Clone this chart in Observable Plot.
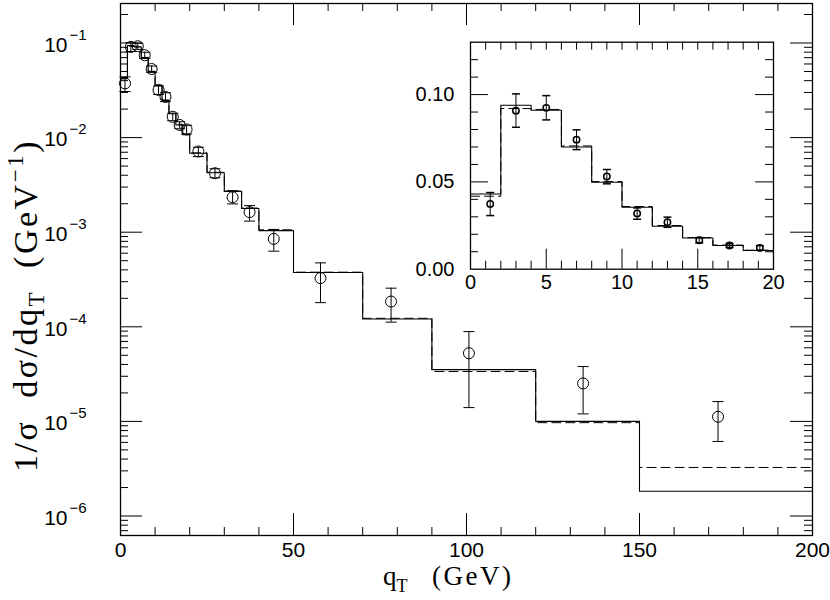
<!DOCTYPE html>
<html><head><meta charset="utf-8">
<script src="https://cdn.jsdelivr.net/npm/d3@7"></script>
<script src="https://cdn.jsdelivr.net/npm/@observablehq/plot@0.6"></script>
<style>
body{margin:0;background:#fff;}
#wrap{position:relative;width:830px;height:600px;overflow:hidden;}
#inset{position:absolute;left:400px;top:30px;}
</style></head><body><div id="wrap"><div id="main"></div><div id="inset"></div></div>
<script>
// ---------- data ----------
const binEdges = [0,2,4,6,8,10,12,14,16,18,20,25,30,35,40,50,70,90,120,150,200];
const solidValues = [0.0431,0.0939,0.0910,0.0700,0.0498,0.0355,0.0246,0.0179,0.0136,0.0107,
  6.84e-3,4.25e-3,2.69e-3,1.78e-3,1.04e-3,3.75e-4,1.21e-4,3.53e-5,1.0e-5,1.83e-6];
const dashedValues = [0.0418,0.0920,0.0915,0.0706,0.0502,0.0359,0.0250,0.0181,0.0138,0.0109,
  6.9e-3,4.3e-3,2.72e-3,1.8e-3,1.06e-3,3.78e-4,1.23e-4,3.37e-5,9.7e-6,3.26e-6];
const pointX  = [1.3,3.0,5.0,7.0,9.0,11.0,13.0,15.1,17.1,19.1,22.5,27.3,32.4,37.3,44.3,57.8,78.2,100.7,133.7,172.7];
const pointY  = [0.0374,0.0908,0.0924,0.0742,0.0531,0.0319,0.0269,0.0166,0.0136,0.0122,
  7.13e-3,4.2e-3,2.34e-3,1.63e-3,8.5e-4,3.27e-4,1.85e-4,5.26e-5,2.52e-5,1.12e-5];
const pointLo = [0.0307,0.0813,0.0855,0.0685,0.0489,0.0286,0.0240,0.0151,0.0124,0.0109,
  6.3e-3,3.76e-3,1.99e-3,1.31e-3,6.3e-4,1.80e-4,1.12e-4,1.40e-5,1.20e-5,6.14e-6];
const pointHi = [0.0439,0.1004,0.0994,0.0798,0.0571,0.0351,0.0298,0.0181,0.0147,0.0135,
  7.9e-3,4.68e-3,2.75e-3,1.91e-3,1.07e-3,4.74e-4,2.56e-4,8.9e-5,3.8e-5,1.62e-5];

const xTickLabels = [0,50,100,150,200];
const xMajorTicks = [50,100,150];
const xMinorTicks = [10,20,30,40,60,70,80,90,110,120,130,140,160,170,180,190];
const yMajorTicks = [1e-6,1e-5,1e-4,1e-3,1e-2,1e-1];
const yTickExponents = ["−6","−5","−4","−3","−2","−1"];
const yMinorMantissas = [2,3,4,5,6,7,8,9];

const insetXTickLabels = [0,5,10,15,20];
const insetXMajorTicks = [5,10,15];
const insetXMinorTicks = [1,2,3,4,6,7,8,9,11,12,13,14,16,17,18,19];
const insetYTickLabels = [0.00,0.05,0.10];
const insetYMajorTicks = [0.05,0.10];
const insetYMinorTicks = [0.01,0.02,0.03,0.04,0.06,0.07,0.08,0.09,0.11,0.12];

// ---------- derived tables ----------
const stepRows = vals => binEdges.map((e,i)=>({x:e, y: vals[Math.min(i, vals.length-1)]}));
const points = pointX.map((x,i)=>({x, y:pointY[i], lo:pointLo[i], hi:pointHi[i]}));
const yDomain = [10**-6.206, 10**-0.5825];
const yMinorTicks = [];
for (let d=-7; d<=-1; d++) for (const m of yMinorMantissas) {
  const v = m*10**d; if (v>yDomain[0] && v<yDomain[1]) yMinorTicks.push(v);
}
const capSymbol = {draw(ctx, size){ const r=Math.sqrt(size/Math.PI); ctx.moveTo(-r,0); ctx.lineTo(r,0); }};
const sans = "Liberation Sans, Arial, sans-serif";
const serif = "Liberation Serif, Times New Roman, serif";

// ---------- main plot ----------
const W=830,H=600,mL=120,mR=18,mT=3,mB=65;
const pw=W-mL-mR, ph=H-mT-mB;
const MJ=22, MN=8;
const main = Plot.plot({
  width:W, height:H, marginLeft:mL, marginRight:mR, marginTop:mT, marginBottom:mB,
  x:{domain:[0,200], axis:null},
  y:{type:"log", domain:yDomain, axis:null},
  style:{background:"white", color:"black", overflow:"visible"},
  marks:[
    Plot.line(stepRows(dashedValues), {x:"x", y:"y", curve:"step-after", stroke:"black", strokeWidth:1, strokeDasharray:"9,5"}),
    Plot.line(stepRows(solidValues), {x:"x", y:"y", curve:"step-after", stroke:"black", strokeWidth:1.1}),
    Plot.ruleX(points, {x:"x", y1:"lo", y2:"hi", stroke:"black", strokeWidth:1}),
    Plot.dot(points, {x:"x", y:"lo", r:5.5, symbol:capSymbol, stroke:"black", fill:"none", strokeWidth:1}),
    Plot.dot(points, {x:"x", y:"hi", r:5.5, symbol:capSymbol, stroke:"black", fill:"none", strokeWidth:1}),
    Plot.dot(points, {x:"x", y:"y", r:5.5, stroke:"black", fill:"none", strokeWidth:1}),
    // ticks
    Plot.tickY(yMajorTicks, {y:d=>d, insetRight:pw-MJ, stroke:"black"}),
    Plot.tickY(yMajorTicks, {y:d=>d, insetLeft:pw-MJ, stroke:"black"}),
    Plot.tickY(yMinorTicks, {y:d=>d, insetRight:pw-MN, stroke:"black"}),
    Plot.tickY(yMinorTicks, {y:d=>d, insetLeft:pw-MN, stroke:"black"}),
    Plot.tickX(xMajorTicks, {x:d=>d, insetTop:ph-MJ, stroke:"black"}),
    Plot.tickX(xMajorTicks, {x:d=>d, insetBottom:ph-MJ, stroke:"black"}),
    Plot.tickX(xMinorTicks, {x:d=>d, insetTop:ph-MN, stroke:"black"}),
    Plot.tickX(xMinorTicks, {x:d=>d, insetBottom:ph-MN, stroke:"black"}),
    Plot.frame({stroke:"black", strokeWidth:1.3}),
    // tick labels
    Plot.text(xTickLabels, {x:d=>d, text:d=>String(d), frameAnchor:"bottom", dy:21, fontSize:21, fontFamily:sans, fill:"black"}),
    Plot.text(yMajorTicks, {y:d=>d, text:()=>"10", frameAnchor:"left", textAnchor:"end", dx:-53, dy:2, fontSize:21, fontFamily:sans, fill:"black"}),
    Plot.text(yMajorTicks, {y:d=>d, text:(d,i)=>yTickExponents[i], frameAnchor:"left", textAnchor:"start", dx:-51, dy:-8, fontSize:15, fontFamily:sans, fill:"black"})
  ]
});
document.getElementById("main").appendChild(main);

// axis titles with sub/superscripts
const ms = d3.select(main);
const xl = ms.append("text").attr("x",383).attr("y",585).attr("text-anchor","start")
  .attr("font-family",serif).attr("font-size",27).attr("fill","black");
xl.append("tspan").text("q");
xl.append("tspan").attr("font-size",18).attr("dy",7).text("T");
ms.append("text").attr("x",432).attr("y",585).attr("text-anchor","start")
  .attr("font-family",serif).attr("font-size",27).attr("letter-spacing",2.5).attr("fill","black")
  .text("(GeV)");

const yl = ms.append("text").attr("transform","translate(37,472) rotate(-90)")
  .attr("text-anchor","start").style("white-space","pre")
  .attr("font-family",serif).attr("font-size",34).attr("letter-spacing",2.5).attr("fill","black");
yl.append("tspan").text("1/σ  dσ/dq");
yl.append("tspan").attr("font-size",23).attr("dy",7).text("T");
yl.append("tspan").attr("dy",-7).text("  (GeV");
yl.append("tspan").attr("font-size",23).attr("dy",-14).text("−1");
yl.append("tspan").attr("dy",14).text(")");

// ---------- inset ----------
const iW=400,iH=280,iL=70,iR=27,iT=11.7,iB=41.3;
const ipw=iW-iL-iR, iph=iH-iT-iB;
const insetPoints = points.filter(p=>p.x<20);
const inset = Plot.plot({
  width:iW, height:iH, marginLeft:iL, marginRight:iR, marginTop:iT, marginBottom:iB,
  x:{domain:[0,20], axis:null},
  y:{domain:[0,0.13], axis:null},
  style:{background:"transparent", color:"black", overflow:"visible"},
  marks:[
    Plot.line(stepRows(dashedValues), {x:"x", y:"y", curve:"step-after", stroke:"black", strokeWidth:1, strokeDasharray:"9,5", clip:true}),
    Plot.line(stepRows(solidValues), {x:"x", y:"y", curve:"step-after", stroke:"black", strokeWidth:1.1, clip:true}),
    Plot.ruleX(insetPoints, {x:"x", y1:"lo", y2:"hi", stroke:"black"}),
    Plot.dot(insetPoints, {x:"x", y:"lo", r:4, symbol:capSymbol, stroke:"black", fill:"none"}),
    Plot.dot(insetPoints, {x:"x", y:"hi", r:4, symbol:capSymbol, stroke:"black", fill:"none"}),
    Plot.dot(insetPoints, {x:"x", y:"y", r:3.2, stroke:"black", fill:"none"}),
    Plot.tickY(insetYMajorTicks, {y:d=>d, insetRight:ipw-18, stroke:"black"}),
    Plot.tickY(insetYMajorTicks, {y:d=>d, insetLeft:ipw-18, stroke:"black"}),
    Plot.tickY(insetYMinorTicks, {y:d=>d, insetRight:ipw-8, stroke:"black"}),
    Plot.tickY(insetYMinorTicks, {y:d=>d, insetLeft:ipw-8, stroke:"black"}),
    Plot.tickX(insetXMajorTicks, {x:d=>d, insetTop:iph-20, stroke:"black"}),
    Plot.tickX(insetXMinorTicks, {x:d=>d, insetTop:iph-8, stroke:"black"}),
    Plot.tickX(insetXMajorTicks.concat(insetXMinorTicks), {x:d=>d, insetBottom:iph-8, stroke:"black"}),
    Plot.frame({stroke:"black", strokeWidth:1.3}),
    Plot.text(insetXTickLabels, {x:d=>d, text:d=>String(d), frameAnchor:"bottom", dy:20, fontSize:20, fontFamily:sans, fill:"black"}),
    Plot.text(insetYTickLabels, {y:d=>d, text:d=>d.toFixed(2), frameAnchor:"left", textAnchor:"end", dx:-16, fontSize:20, fontFamily:sans, fill:"black"})
  ]
});
document.getElementById("inset").appendChild(inset);
</script></body></html>
